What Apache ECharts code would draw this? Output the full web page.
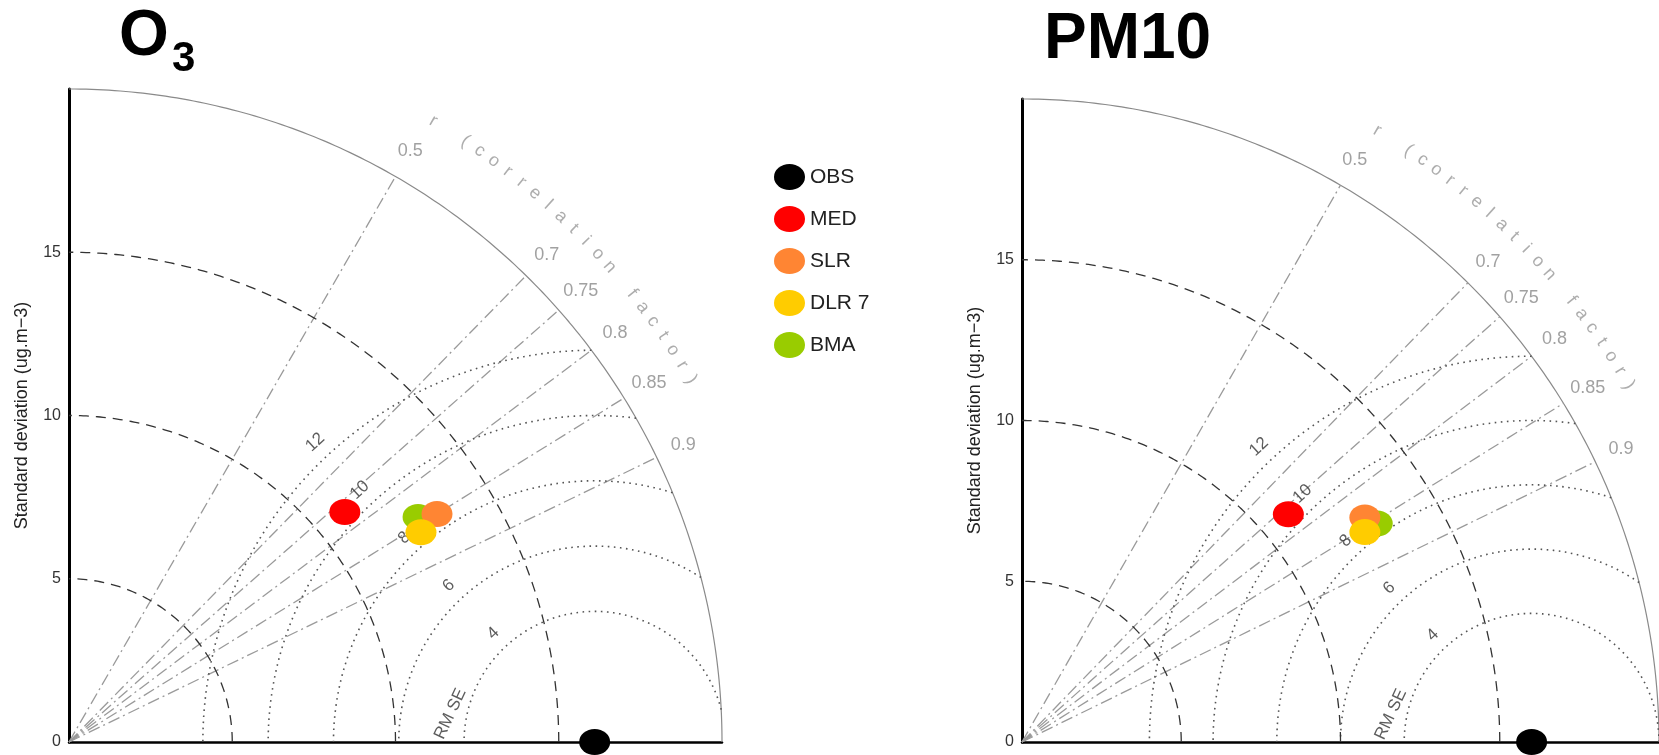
<!DOCTYPE html>
<html><head><meta charset="utf-8">
<script src="https://cdn.jsdelivr.net/npm/echarts@6/dist/echarts.min.js"></script>
<style>html,body{margin:0;padding:0;background:#fff;}#c{width:1659px;height:755px;}</style>
</head><body><div id="c"></div>
<script>
// ---- data ----
const models = ['OBS', 'MED', 'SLR', 'DLR 7', 'BMA'];
const modelColors = ['#000000', '#ff0000', '#ff8533', '#ffcc00', '#99cc00'];
const drawOrder = [4, 2, 3, 1, 0]; // BMA, SLR, DLR 7, MED, OBS (bottom -> top)
const o3Std = [16.1, 11.0, 13.26, 12.55, 12.72];
const o3Corr = [1, 0.768, 0.850, 0.859, 0.8405];
const pm10Std = [16.0, 10.96, 12.83, 12.59, 13.06];
const pm10Corr = [1, 0.763, 0.839, 0.855, 0.854];
const panelTitles = ['O', 'PM10'];
const sdTicks = [0, 5, 10, 15];
const sdArcs = [5, 10, 15];
const rmseArcs = [4, 6, 8, 10, 12];
const corrTicks = [0.5, 0.7, 0.75, 0.8, 0.85, 0.9];
const maxStd = 20;
const corrSymbol = 'r';
const corrTitle = '(correlation factor)';
const rmseTitle = 'RM SE';
const yTitle = 'Standard deviation (ug.m\u22123)';

// ---- helpers ----
const FONT = '"Liberation Sans", Arial, sans-serif';
const ELLIPSE = 'path://M0,13A15.5,13,0,1,1,31,13A15.5,13,0,1,1,0,13Z';
const rad = d => d * Math.PI / 180;
function arcPts(cx, r, a0, a1) {
  const pts = [];
  const n = 180;
  for (let i = 0; i <= n; i++) {
    const a = rad(a0 + (a1 - a0) * i / n);
    pts.push([cx + r * Math.cos(a), r * Math.sin(a)]);
  }
  return pts;
}
function lineSeries(p, data, color, width, type, z) {
  return { type: 'line', xAxisIndex: p, yAxisIndex: p, data: data, showSymbol: false, symbol: 'none',
    silent: true, clip: false, z: z || 2, lineStyle: { color: color, width: width, type: type, cap: 'butt' } };
}
function labelSeries(p, items, z) {
  return { type: 'scatter', xAxisIndex: p, yAxisIndex: p, symbolSize: 0, silent: true, clip: false, z: z || 5,
    data: items.map(it => ({ value: it.v, label: { show: true, position: 'inside', formatter: it.t, rotate: it.rot || 0,
      color: it.c, fontSize: it.fs, fontFamily: FONT } })) };
}

const series = [];
const panels = [{ std: o3Std, corr: o3Corr }, { std: pm10Std, corr: pm10Corr }];
panels.forEach((pn, p) => {
  const obs = pn.std[0];
  // outer boundary
  series.push(lineSeries(p, arcPts(0, maxStd, 0, 90), '#8a8a8a', 1.2, 'solid', 2));
  // std dev arcs
  sdArcs.forEach(r => series.push(lineSeries(p, arcPts(0, r, 0, 90), '#333333', 1.3, [10, 7], 3)));
  // correlation rays
  corrTicks.forEach(c => series.push(lineSeries(p, [[0, 0], [maxStd * c, maxStd * Math.sqrt(1 - c * c)]], '#9a9a9a', 1.3, [12, 4, 2, 4], 2)));
  // RMSE arcs around obs, clipped to outer boundary
  rmseArcs.forEach(r => {
    let cosA = (maxStd * maxStd - obs * obs - r * r) / (2 * obs * r);
    let aMin = cosA >= 1 ? 0 : Math.acos(Math.max(-1, cosA)) * 180 / Math.PI;
    series.push(lineSeries(p, arcPts(obs, r, aMin, 180), '#555555', 1.6, [1.6, 4.5], 2));
  });
  // labels
  const labs = [];
  corrTicks.forEach(c => {
    const R = 20.9;
    labs.push({ v: [R * c, R * Math.sqrt(1 - c * c)], t: String(c), c: '#8a8a8a', fs: 18 });
  });
  const R2 = 22.05;
  const aR = 59.6;
  labs.push({ v: [R2 * Math.cos(rad(aR)), R2 * Math.sin(rad(aR))], t: corrSymbol, c: '#999999', fs: 18, rot: aR - 90 });
  const chars = corrTitle.split('');
  const a0 = 56.6, a1 = 30.2;
  chars.forEach((ch, i) => {
    if (ch === ' ') return;
    const a = a0 + (a1 - a0) * i / (chars.length - 1);
    labs.push({ v: [R2 * Math.cos(rad(a)), R2 * Math.sin(rad(a))], t: ch, c: '#999999', fs: 18, rot: a - 90 });
  });
  rmseArcs.forEach(r => {
    const a = rad(133), R = r + 0.55;
    labs.push({ v: [obs + R * Math.cos(a), R * Math.sin(a)], t: String(r), c: '#333333', fs: 17, rot: 43 });
  });
  labs.push({ v: [obs + 4.5 * Math.cos(rad(169)), 4.5 * Math.sin(rad(169))], t: rmseTitle, c: '#333333', fs: 17, rot: 65 });
  series.push(labelSeries(p, labs, 5));
  // model points
  drawOrder.forEach((m, k) => {
    const s = pn.std[m], c = pn.corr[m];
    series.push({ type: 'scatter', name: models[m], xAxisIndex: p, yAxisIndex: p, clip: false,
      symbol: ELLIPSE, symbolSize: [31, 26], z: 10 + k,
      itemStyle: { color: modelColors[m], opacity: 1 },
      data: [[s * c, s * Math.sqrt(Math.max(0, 1 - c * c))]] });
  });
});

const grids = [
  { left: 69, top: 89, width: 653, height: 653 },
  { left: 1022, top: 99, width: 643, height: 643 }
];
const xAxes = grids.map((g, i) => ({ type: 'value', gridIndex: i, min: 0, max: maxStd, interval: 5,
  axisLine: { show: true, onZero: false, lineStyle: { color: '#000', width: 2.5 } },
  axisTick: { show: false }, axisLabel: { show: false }, splitLine: { show: false } }));
const yAxes = grids.map((g, i) => ({ type: 'value', gridIndex: i, min: 0, max: maxStd, interval: 5,
  axisLine: { show: true, onZero: false, lineStyle: { color: '#000', width: 3 } },
  axisTick: { show: false }, splitLine: { show: false },
  axisLabel: { margin: 8, color: '#333', fontSize: 16, fontFamily: FONT,
    formatter: v => sdTicks.indexOf(v) >= 0 ? String(v) : '' },
  name: yTitle, nameLocation: 'middle', nameRotate: 90, nameGap: 38,
  nameTextStyle: { color: '#222', fontSize: 18, fontFamily: FONT } }));

const chart = echarts.init(document.getElementById('c'), null, { renderer: 'canvas' });
chart.setOption({
  animation: false,
  backgroundColor: '#ffffff',
  grid: grids,
  xAxis: xAxes,
  yAxis: yAxes,
  legend: {
    data: models, orient: 'vertical', left: 769, top: 159, itemWidth: 31, itemHeight: 26, itemGap: 16,
    icon: ELLIPSE, selectedMode: false,
    textStyle: { fontSize: 21, color: '#222', fontFamily: FONT }
  },
  graphic: [
    { type: 'text', left: 119, top: 5, style: { text: panelTitles[0], font: 'bold 64px ' + FONT, fill: '#000' } },
    { type: 'text', left: 172, top: 38, style: { text: '3', font: 'bold 42px ' + FONT, fill: '#000' } },
    { type: 'text', left: 1044, top: 8, style: { text: panelTitles[1], font: 'bold 64px ' + FONT, fill: '#000' } }
  ],
  series: series
});
</script></body></html>
